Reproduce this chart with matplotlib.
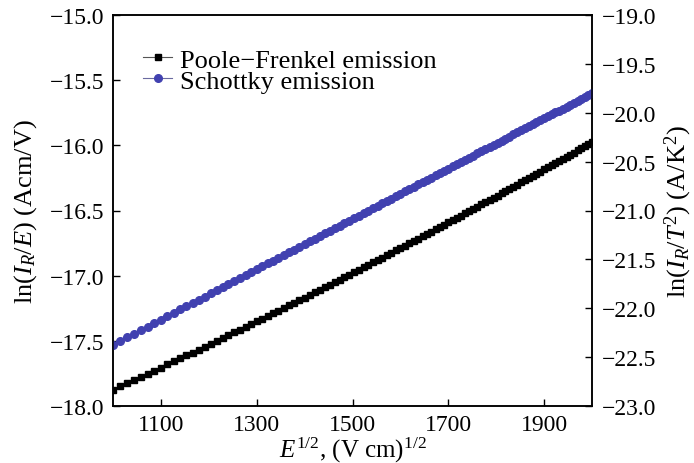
import matplotlib
matplotlib.use("Agg")
import matplotlib.pyplot as plt

plt.rcParams['font.family'] = ['Liberation Serif', 'DejaVu Serif']
plt.rcParams['mathtext.fontset'] = 'custom'
plt.rcParams['mathtext.rm'] = 'Liberation Serif'
plt.rcParams['mathtext.it'] = 'Liberation Serif:italic'
plt.rcParams['mathtext.bf'] = 'Liberation Serif:bold'

# E^{1/2}, (V cm)^{1/2}
sqrt_e = [1000.0, 1014.9, 1029.6, 1044.0, 1058.3, 1072.4, 1086.3, 1100.0, 1113.6, 1126.9,
          1140.2, 1153.3, 1166.2, 1179.0, 1191.6, 1204.2, 1216.6, 1228.8, 1241.0, 1253.0,
          1264.9, 1276.7, 1288.4, 1300.0, 1311.5, 1322.9, 1334.2, 1345.4, 1356.5, 1367.5,
          1378.4, 1389.2, 1400.0, 1410.7, 1421.3, 1431.8, 1442.2, 1452.6, 1462.9, 1473.1,
          1483.2, 1493.3, 1503.3, 1513.3, 1523.2, 1533.0, 1542.7, 1552.4, 1562.0, 1571.6,
          1581.1, 1590.6, 1600.0, 1609.3, 1618.6, 1627.9, 1637.1, 1646.2, 1655.3, 1664.3,
          1673.3, 1682.3, 1691.2, 1700.0, 1708.8, 1717.6, 1726.3, 1734.9, 1743.6, 1752.1,
          1760.7, 1769.2, 1777.6, 1786.1, 1794.4, 1802.8, 1811.1, 1819.3, 1827.6, 1835.8,
          1843.9, 1852.0, 1860.1, 1868.2, 1876.2, 1884.1, 1892.1, 1900.0, 1907.9, 1915.7,
          1923.5, 1931.3, 1939.1, 1946.8, 1954.5, 1962.1, 1969.8, 1977.4, 1984.9, 1992.5,
          2000.0]

# Poole-Frenkel: ln(I_R/E), left axis
pf_values = [-17.875, -17.850, -17.825, -17.801, -17.776, -17.752, -17.728, -17.705, -17.681, -17.658,
             -17.635, -17.612, -17.590, -17.567, -17.545, -17.523, -17.501, -17.479, -17.457, -17.436,
             -17.415, -17.393, -17.372, -17.351, -17.330, -17.310, -17.289, -17.268, -17.248, -17.228,
             -17.208, -17.188, -17.168, -17.148, -17.128, -17.109, -17.089, -17.070, -17.050, -17.031,
             -17.012, -16.993, -16.974, -16.955, -16.936, -16.917, -16.898, -16.880, -16.861, -16.843,
             -16.824, -16.806, -16.788, -16.770, -16.752, -16.733, -16.715, -16.698, -16.680, -16.662,
             -16.644, -16.626, -16.609, -16.591, -16.574, -16.556, -16.539, -16.522, -16.504, -16.487,
             -16.470, -16.453, -16.436, -16.418, -16.402, -16.385, -16.368, -16.351, -16.334, -16.317,
             -16.301, -16.284, -16.267, -16.251, -16.234, -16.218, -16.201, -16.185, -16.168, -16.152,
             -16.136, -16.120, -16.103, -16.087, -16.071, -16.055, -16.039, -16.023, -16.007, -15.991,
             -15.975]

# Schottky: ln(I_R/T^2), right axis
sch_values = [-22.373, -22.335, -22.297, -22.260, -22.223, -22.187, -22.151, -22.116, -22.081, -22.046,
              -22.012, -21.979, -21.945, -21.912, -21.880, -21.848, -21.816, -21.784, -21.753, -21.722,
              -21.691, -21.661, -21.631, -21.601, -21.572, -21.542, -21.513, -21.484, -21.456, -21.427,
              -21.399, -21.372, -21.344, -21.316, -21.289, -21.262, -21.235, -21.208, -21.182, -21.156,
              -21.130, -21.104, -21.078, -21.052, -21.027, -21.002, -20.977, -20.952, -20.927, -20.902,
              -20.878, -20.853, -20.829, -20.805, -20.781, -20.757, -20.734, -20.710, -20.687, -20.664,
              -20.641, -20.617, -20.595, -20.572, -20.549, -20.527, -20.504, -20.482, -20.460, -20.438,
              -20.416, -20.394, -20.372, -20.350, -20.329, -20.307, -20.286, -20.265, -20.244, -20.222,
              -20.202, -20.181, -20.160, -20.139, -20.119, -20.098, -20.078, -20.057, -20.037, -20.017,
              -19.997, -19.977, -19.957, -19.937, -19.917, -19.898, -19.878, -19.858, -19.839, -19.819,
              -19.800]

x_ticks = [1100, 1300, 1500, 1700, 1900]
left_ticks = [-18.0, -17.5, -17.0, -16.5, -16.0, -15.5, -15.0]
right_ticks = [-23.0, -22.5, -22.0, -21.5, -21.0, -20.5, -20.0, -19.5, -19.0]
series_labels = ['Poole\u2212Frenkel emission', 'Schottky emission']

fig = plt.figure(figsize=(6.94, 4.64), dpi=100)
ax = fig.add_axes([113 / 694, 57 / 464, 479 / 694, 391 / 464])
ax2 = ax.twinx()

blue = '#4141b0'
l1, = ax.plot(sqrt_e, pf_values, color='#555555', lw=0.8, marker='s', ms=5,
              mfc='black', mec='black', label=series_labels[0])
l2, = ax2.plot(sqrt_e, sch_values, color='#6a6aa0', lw=0.8, marker='o', ms=5.5,
               mfc=blue, mec=blue, label=series_labels[1])

ax.set_xlim(1000, 2000)
ax.set_ylim(-18, -15)
ax2.set_ylim(-23, -19)
ax.set_xticks(x_ticks)
ax.set_xticklabels([str(t) for t in x_ticks])
ax.set_yticks(left_ticks)
ax.set_yticklabels([f'{t:.1f}'.replace('-', '\u2212') for t in left_ticks])
ax2.set_yticks(right_ticks)
ax2.set_yticklabels([f'{t:.1f}'.replace('-', '\u2212') for t in right_ticks])

for a in (ax, ax2):
    a.tick_params(direction='in', length=5, width=1, labelsize=17)
    for s in a.spines.values():
        s.set_linewidth(1.1)
ax.tick_params(axis='y', pad=6)
ax.tick_params(axis='x', pad=6)
ax2.tick_params(axis='y', pad=7)

ax.set_xlabel(r'$E^{1/2}$, (V cm)$^{1/2}$', fontsize=18, labelpad=0)
ax.set_ylabel(r'ln($I_R$/$E$) (Acm/V)', fontsize=19)
ax2.set_ylabel(r'ln($I_R$/$T^2$) (A/K$^2$)', fontsize=19, rotation=90)
ax.yaxis.set_label_coords(-0.182, 0.5)
ax2.yaxis.set_label_coords(1.18, 0.5)
ax2.yaxis.label.set_va('center')
ax.yaxis.label.set_va('center')

leg = ax.legend(handles=[l1, l2], loc='upper left', bbox_to_anchor=(0.063, 0.915),
                frameon=False, fontsize=19, handlelength=1.1, handletextpad=0.3,
                labelspacing=-0.1, borderpad=0, borderaxespad=0)

fig.savefig('out.png', dpi=100)
